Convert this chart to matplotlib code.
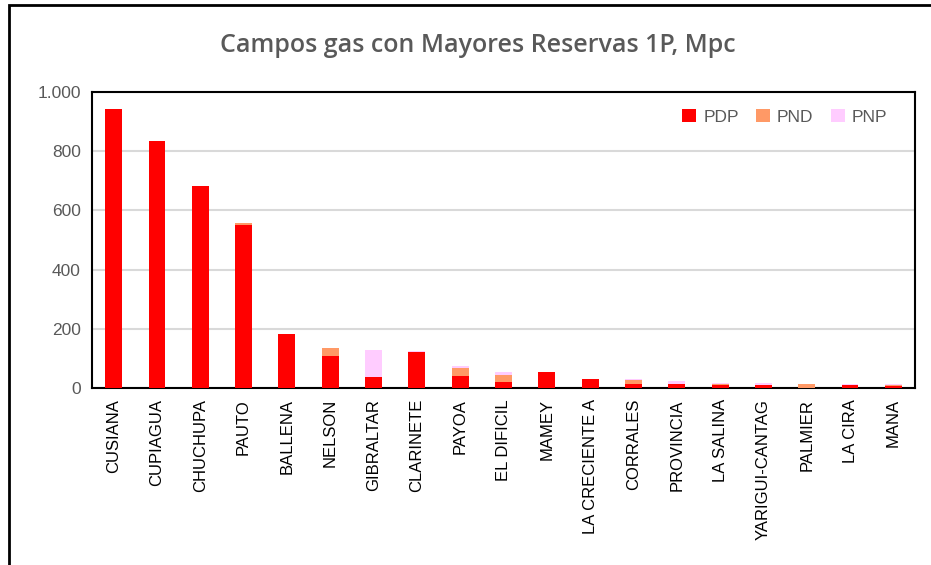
import matplotlib
matplotlib.use("Agg")
import matplotlib.pyplot as plt
import numpy as np
from matplotlib.patches import Rectangle

campos = ["CUSIANA", "CUPIAGUA", "CHUCHUPA", "PAUTO", "BALLENA", "NELSON", "GIBRALTAR",
          "CLARINETE", "PAYOA", "EL DIFICIL", "MAMEY", "LA CRECIENTE A", "CORRALES",
          "PROVINCIA", "LA SALINA", "YARIGUI-CANTAG", "PALMIER", "LA CIRA", "MANA"]
pdp = [943, 835, 683, 549, 182, 109, 37, 122, 41, 20, 54, 31, 15, 15, 11, 11, 0, 10, 8]
pnd = [0, 0, 0, 10, 0, 26, 0, 0, 25, 25, 0, 0, 12, 0, 3, 0, 15, 0, 2]
pnp = [0, 0, 0, 0, 0, 0, 93, 2, 9, 9, 0, 0, 3, 7, 2, 7, 0, 2, 4]
yticks = [0, 200, 400, 600, 800, 1000]
ytick_labels = ["0", "200", "400", "600", "800", "1.000"]

plt.rcParams['font.family'] = ['Liberation Sans', 'DejaVu Sans']

fig = plt.figure(figsize=(9.31, 5.65), dpi=100)
ax = fig.add_axes([92/931, 1-388/565, (915-92)/931, (388-92)/565])

x = np.arange(len(campos))
w = 0.39
pdp_a = np.array(pdp); pnd_a = np.array(pnd); pnp_a = np.array(pnp)
ax.bar(x, pdp_a, w, color="#FF0000", label="PDP", zorder=3)
ax.bar(x, pnd_a, w, bottom=pdp_a, color="#FF9966", label="PND", zorder=3)
ax.bar(x, pnp_a, w, bottom=pdp_a + pnd_a, color="#FFCCFF", label="PNP", zorder=3)

ax.set_xlim(-0.5, len(campos) - 0.5)
ax.set_ylim(0, 1000)
ax.set_yticks(yticks)
ax.set_yticklabels(ytick_labels, fontsize=12.5, color="#595959")
ax.set_xticks(x)
ax.set_xticklabels(campos, rotation=90, fontsize=12, color="black")
ax.tick_params(axis="both", length=0, pad=8)
ax.tick_params(axis="x", pad=8)
ax.yaxis.grid(True, color="#D9D9D9", linewidth=1.5, zorder=0)
ax.set_axisbelow(True)
for s in ax.spines.values():
    s.set_color("black")
    s.set_linewidth(1.5)

leg = ax.legend(loc="upper right", ncol=3, frameon=False, fontsize=12.5,
                handlelength=0.8, handleheight=0.8, handletextpad=0.4,
                columnspacing=1.0, bbox_to_anchor=(0.985, 0.995))
for t in leg.get_texts():
    t.set_color("#595959")

fig.text(478/931, 1-45/565, "Campos gas con Mayores Reservas 1P, Mpc", ha="center", va="center",
         fontsize=18, fontweight="semibold", color="#595959", family=["Open Sans", "DejaVu Sans"])

# outer frame
fig.patches.append(Rectangle((9/931, -0.01), 1.0, 1-5/565+0.01, transform=fig.transFigure,
                             fill=False, edgecolor="black", linewidth=2))

fig.savefig("out.png", dpi=100)
